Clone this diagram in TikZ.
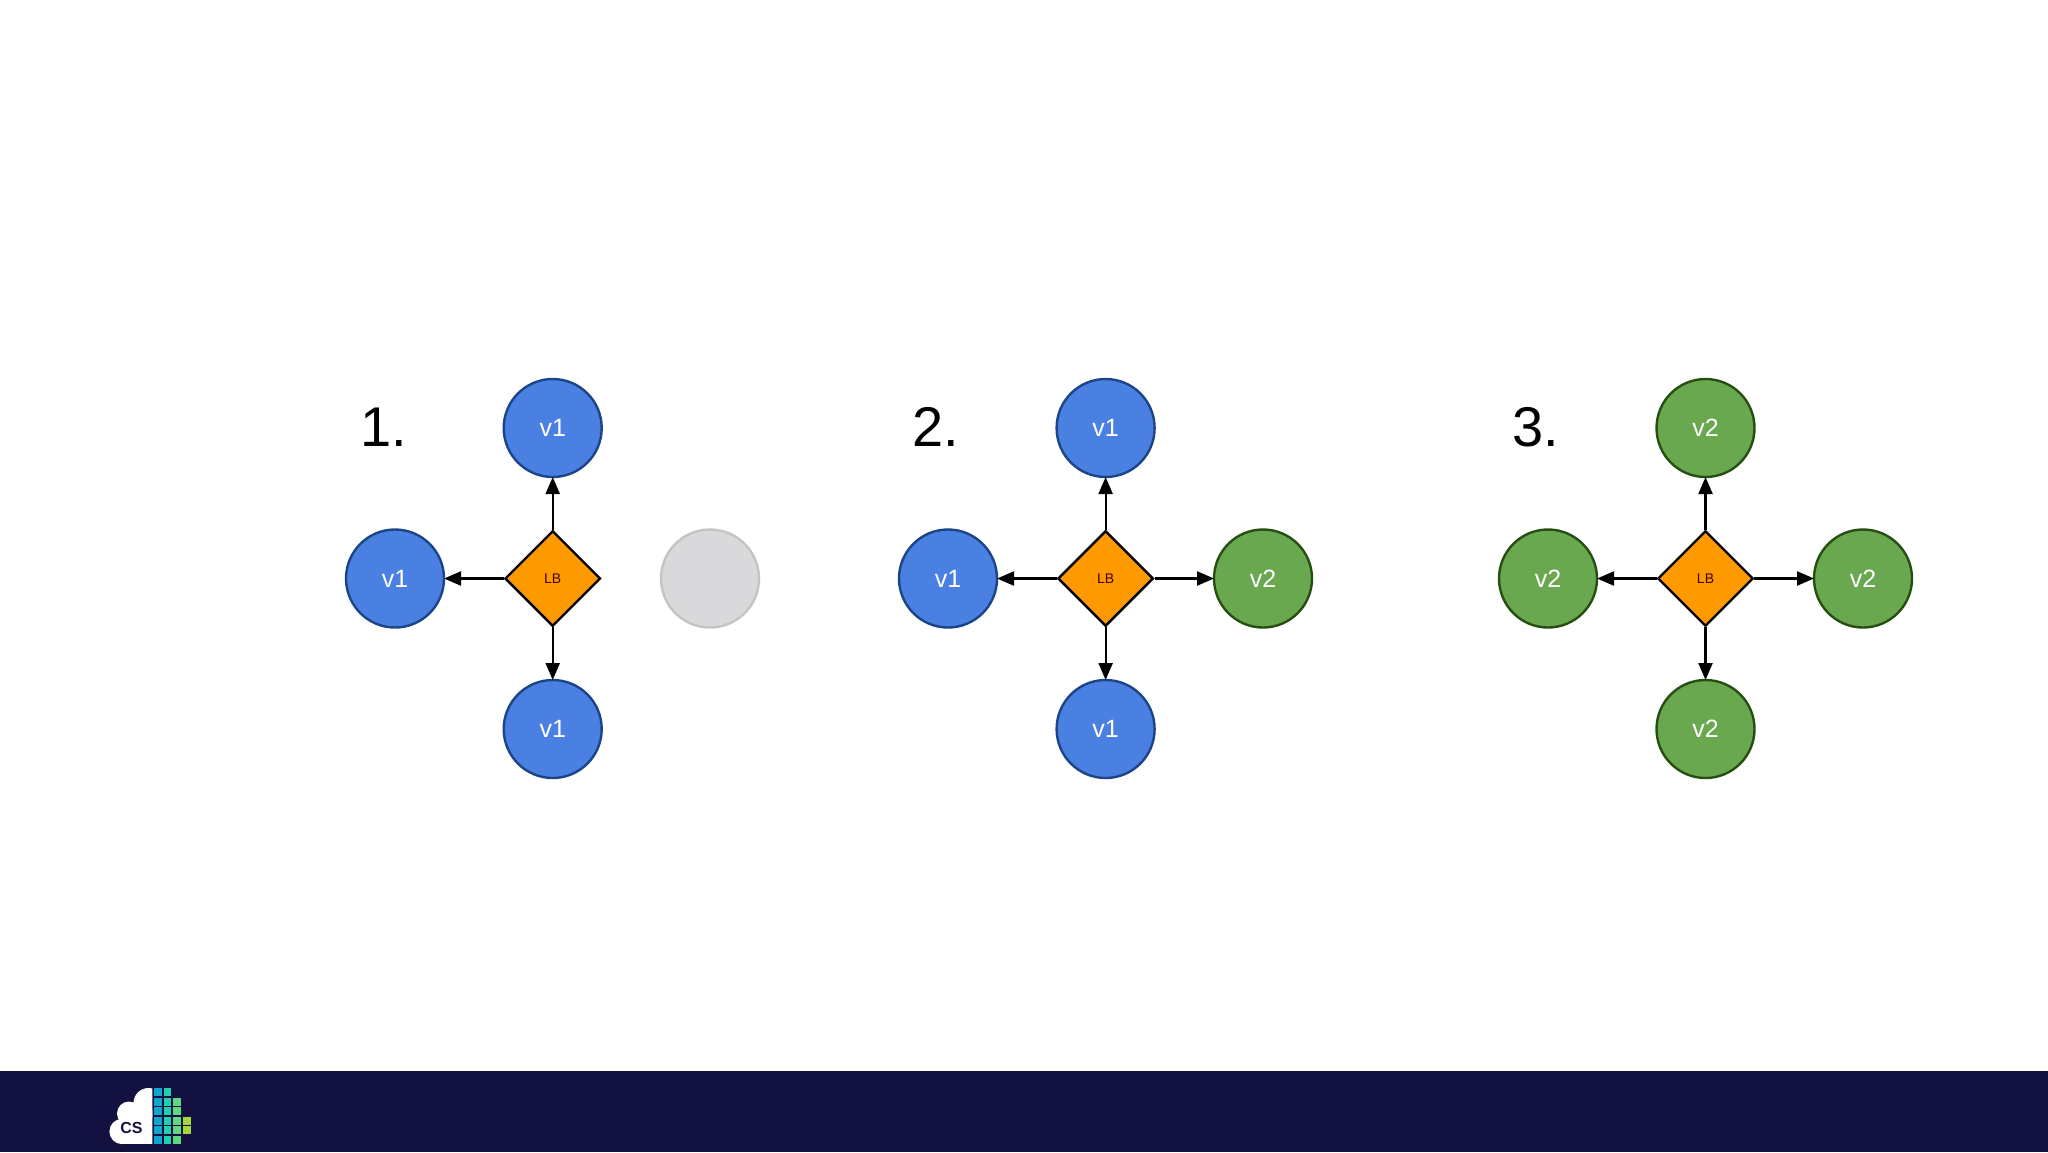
\documentclass[tikz,border=0pt]{standalone}
\usepackage{fontspec}
\setmainfont{Liberation Sans}
\usetikzlibrary{arrows.meta,shapes.geometric}
\definecolor{bluefill}{HTML}{4A80E2}
\definecolor{blueline}{HTML}{1C4587}
\definecolor{greenfill}{HTML}{6AA84F}
\definecolor{greenline}{HTML}{274E13}
\definecolor{greyfill}{HTML}{D9D9DB}
\definecolor{greyline}{HTML}{C4C4C4}
\definecolor{lbfill}{HTML}{FF9900}
\definecolor{band}{HTML}{131140}
\definecolor{logoa}{HTML}{0FA5CF}
\definecolor{logob}{HTML}{1FD0B0}
\definecolor{logoc}{HTML}{5FD880}
\definecolor{logod}{HTML}{A6D83C}
\tikzset{
  srv/.style={circle,minimum size=98*0.5pt,inner sep=0pt,line width=1.2pt,text=white,font=\fontsize{12.5}{12.5}\selectfont},
  vone/.style={srv,fill=bluefill,draw=blueline},
  vtwo/.style={srv,fill=greenfill,draw=greenline},
  idle/.style={srv,fill=greyfill,draw=greyline},
  lb/.style={diamond,aspect=1,minimum size=95.5*0.5pt,inner sep=0pt,fill=lbfill,draw=black,line width=1.2pt,font=\fontsize{7}{7}\selectfont,text=black!75!red},
  link/.style={draw=black,line width=1.1pt,-{Triangle[length=8.5pt,width=7pt]},shorten >=-0.6pt},
  steplabel/.style={font=\fontsize{28}{28}\selectfont,text=black},
  sq/.style={inner sep=0pt,minimum size=7.9*0.5pt,draw=none},
}
\begin{document}
\begin{tikzpicture}[x=0.5pt,y=-0.5pt]
\useasboundingbox (0,0) rectangle (2048,1152);
\fill[white] (0,0) rectangle (2048,1152);
\fill[band] (0,1071) rectangle (2048,1152);
% logo
\begin{scope}
\clip (100,1080) rectangle (152.3,1150);
\fill[white] (122,1131.5) circle[radius=12.6];
\fill[white] (129,1113.5) circle[radius=12];
\fill[white] (148.5,1103) circle[radius=15];
\fill[white] (122,1110) rectangle (153,1144);
\end{scope}
\node[font=\bfseries\fontsize{8}{8}\selectfont,text=band] (cs) at (131.5,1128) {CS};
\foreach \c/\xx/\ys in {logoa/158/{1092,1102,1111,1121,1130,1140},logob/167.5/{1092,1102,1111,1121,1130,1140},logoc/177/{1102,1111,1121,1130,1140},logod/187/{1121,1130}}{
  \foreach \yy in \ys { \node[sq,fill=\c] at (\xx,\yy) {}; }
}
% panel 1
\node[steplabel] (n1) at (384,427) {1.};
\node[lb] (a) at (552.7,578.5) {LB};
\node[vone] (at) at (552.7,428) {v1};
\node[vone] (al) at (395,578.5) {v1};
\node[vone] (ab) at (552.7,729) {v1};
\node[idle] (ar) at (710,578.5) {};
\draw[link] (a) -- (at);
\draw[link] (a) -- (al);
\draw[link] (a) -- (ab);
% panel 2
\node[steplabel] (n2) at (936,427) {2.};
\node[lb] (b) at (1105.6,578.5) {LB};
\node[vone] (bt) at (1105.6,428) {v1};
\node[vone] (bl) at (948,578.5) {v1};
\node[vone] (bb) at (1105.6,729) {v1};
\node[vtwo] (br) at (1263,578.5) {v2};
\draw[link] (b) -- (bt);
\draw[link] (b) -- (bl);
\draw[link] (b) -- (bb);
\draw[link] (b) -- (br);
% panel 3
\node[steplabel] (n3) at (1536,427) {3.};
\node[lb] (c) at (1705.5,578.5) {LB};
\node[vtwo] (ct) at (1705.5,428) {v2};
\node[vtwo] (cl) at (1548,578.5) {v2};
\node[vtwo] (cb) at (1705.5,729) {v2};
\node[vtwo] (cr) at (1863,578.5) {v2};
\draw[link] (c) -- (ct);
\draw[link] (c) -- (cl);
\draw[link] (c) -- (cb);
\draw[link] (c) -- (cr);
\end{tikzpicture}
\end{document}
